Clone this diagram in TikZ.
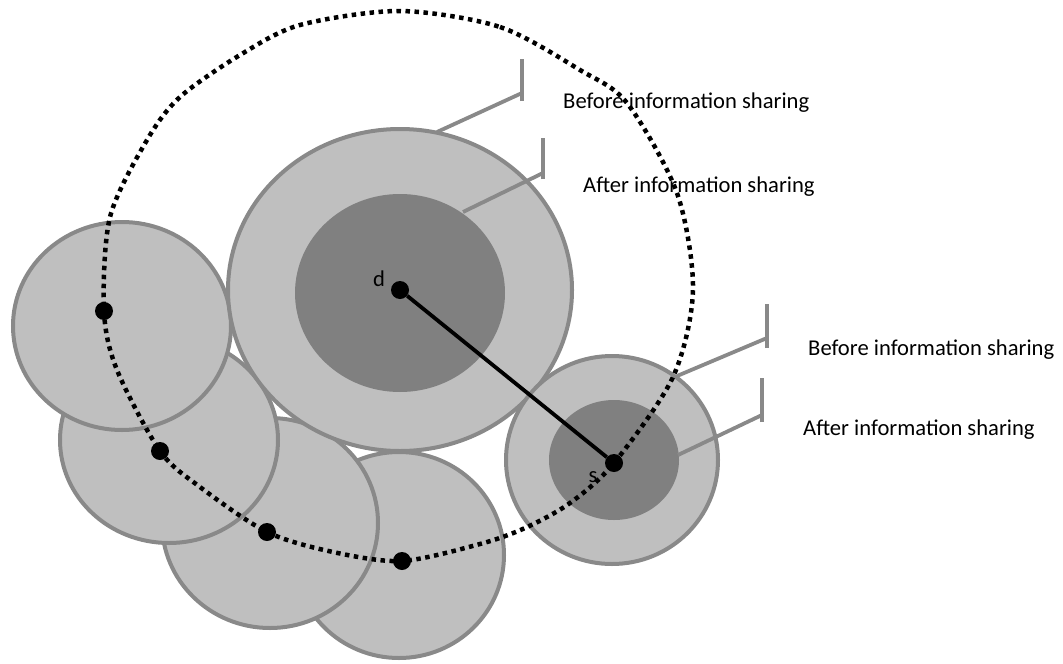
\documentclass[tikz,border=0pt]{standalone}
\usepackage{fontspec}
\setmainfont{Carlito}
\definecolor{lightfill}{RGB}{191,191,191}
\definecolor{darkfill}{RGB}{128,128,128}
\definecolor{rimgray}{RGB}{137,137,137}

\begin{document}
\begin{tikzpicture}[x=1pt,y=-1pt,
  zone/.style={fill=lightfill,draw=rimgray,line width=4pt},
  core/.style={fill=darkfill},
  callout/.style={draw=rimgray,line width=3.8pt},
  dot/.style={circle,fill=black,inner sep=0pt,minimum size=18pt},
  note/.style={anchor=west,inner sep=0pt,font=\fontsize{22.6}{27}\selectfont},
  tag/.style={inner sep=0pt,font=\fontsize{22.6}{27}\selectfont},
  reach/.style={line width=4.5pt,dash pattern=on 4.5pt off 4.5pt}]

\useasboundingbox (0,0) rectangle (1063,664);

% Neighbour ranges
\draw[zone] (399,555) ellipse (105 and 103);
\draw[zone] (270,523) ellipse (108 and 105);
\draw[zone] (169,440) ellipse (109 and 103);
\draw[zone] (122,326) ellipse (109 and 104);

% Range of d
\draw[zone] (400,290) ellipse (172 and 161);
\fill[core] (400,293) ellipse (105 and 99);

% Range of s
\draw[zone] (612,460) ellipse (106 and 104);
\fill[core] (614,460) ellipse (65 and 60);

% Callouts
\coordinate (dout) at (437,132);
\coordinate (doutbend) at (522,93);
\coordinate (din) at (463,212);
\coordinate (dinbend) at (543,173);
\coordinate (sout) at (677,376);
\coordinate (soutbend) at (767,338);
\coordinate (sin) at (678,455);
\coordinate (sinbend) at (762,415);
\draw[callout] (dout) -- (doutbend);
\draw[callout] ([yshift=-8pt]doutbend) -- ([yshift=34pt]doutbend);
\draw[callout] (din) -- (dinbend);
\draw[callout] ([yshift=-6pt]dinbend) -- ([yshift=35pt]dinbend);
\draw[callout] (sout) -- (soutbend);
\draw[callout] ([yshift=-10pt]soutbend) -- ([yshift=34pt]soutbend);
\draw[callout] (sin) -- (sinbend);
\draw[callout] ([yshift=-7pt]sinbend) -- ([yshift=37pt]sinbend);

\node[note] (dbefore) at (563,103) {Before information sharing};
\node[note] (dafter) at (583,187) {After information sharing};
\node[note] (sbefore) at (808,350) {Before information sharing};
\node[note] (safter) at (803,430) {After information sharing};

% Dotted ring
\draw[reach] plot[smooth cycle] coordinates {(400,11) (500,27) (580,70) (627,103)
  (677,193) (693,290) (673,377) (614,463) (570,503) (525,528) (480,544)
  (402,561) (333,552) (267,532) (200,487) (160,451) (117,370) (104,311)
  (110,217) (147,140) (180,97) (240,55) (300,25)};

% Nodes
\node[dot] (d) at (400,290) {};
\node[dot] (s) at (614,463) {};
\node[dot] (n1) at (104,311) {};
\node[dot] (n2) at (160,451) {};
\node[dot] (n3) at (267,532) {};
\node[dot] (n4) at (402,561) {};
\draw[line width=3.8pt] (d) -- (s);

\node[tag] (dlabel) at (379,279) {d};
\node[tag] (slabel) at (593,477) {s};
\end{tikzpicture}
\end{document}
